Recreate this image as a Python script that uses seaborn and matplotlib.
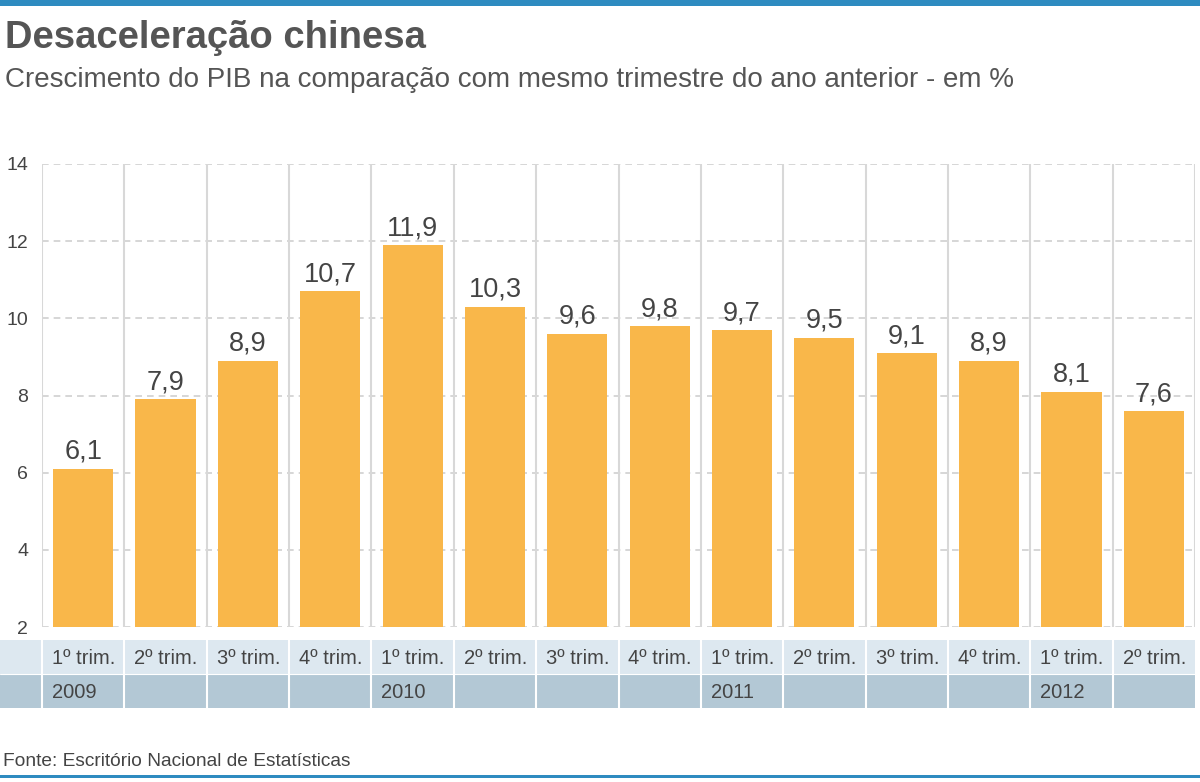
import matplotlib.pyplot as plt
import matplotlib.patches as mpatches
import numpy as np
import pandas as pd
import seaborn as sns

quarters = ["1º trim.", "2º trim.", "3º trim.", "4º trim.",
            "1º trim.", "2º trim.", "3º trim.", "4º trim.",
            "1º trim.", "2º trim.", "3º trim.", "4º trim.",
            "1º trim.", "2º trim."]
years = ["2009", "", "", "", "2010", "", "", "", "2011", "", "", "", "2012", ""]
growth = [6.1, 7.9, 8.9, 10.7, 11.9, 10.3, 9.6, 9.8, 9.7, 9.5, 9.1, 8.9, 8.1, 7.6]
y_ticks = [2, 4, 6, 8, 10, 12, 14]

df = pd.DataFrame({"pos": np.arange(len(growth)), "growth": growth})

sns.set_theme(style="white")
plt.rcParams["font.family"] = ["Liberation Sans", "DejaVu Sans"]

W, H = 1200, 782
fig = plt.figure(figsize=(12, 7.82), dpi=100)

def fx(px):
    return px / W

def fy(px):
    return 1 - px / H

# main axes: x 42..1195 px, y 164..627 px
ax = fig.add_axes([fx(42), fy(627), fx(1195 - 42), (627 - 164) / H])
sns.barplot(data=df, x="pos", y="growth", color="#f9b74a", saturation=1,
            width=0.73, ax=ax, zorder=3)
for p in ax.patches:
    p.set_edgecolor("none")

ax.set_xlim(-0.5, len(growth) - 0.5)
ax.set_ylim(2, 14)
ax.set_yticks(y_ticks)
ax.set_yticklabels([str(t) for t in y_ticks])
ax.set_xticks([])
ax.set_xlabel("")
ax.set_ylabel("")
for s in ax.spines.values():
    s.set_visible(False)
ax.tick_params(axis="y", length=0, pad=10, labelsize=14, labelcolor="#444444")

for t in y_ticks:
    ax.axhline(t, color="#cfcfcf", lw=1.2, ls=(0, (4, 3)), zorder=1)
for k in range(len(growth) + 1):
    ax.axvline(k - 0.5, color="#d8d8d8", lw=1.5, zorder=1)

for i, v in enumerate(growth):
    ax.text(i, v + 0.1, f"{v:.1f}".replace(".", ","), ha="center", va="bottom",
            fontsize=19.5, color="#444444", zorder=4)

# table below the chart
col_w = (1195 - 42) / len(growth)
tab = fig.add_axes([0, fy(708), fx(1195), (708 - 640) / H])
tab.set_xlim(-0.5 - 42 / col_w, len(growth) - 0.5)
tab.set_ylim(0, 2)
tab.axis("off")
x0 = -0.5 - 42 / col_w
tab.add_patch(mpatches.Rectangle((x0, 1), -0.5 - x0, 1, color="#dde8f0", lw=0))
tab.add_patch(mpatches.Rectangle((x0, 0), -0.5 - x0, 1, color="#b3c8d5", lw=0))
for i in range(len(growth)):
    tab.add_patch(mpatches.Rectangle((i - 0.5, 1), 1, 1, color="#dde8f0", lw=0))
    tab.add_patch(mpatches.Rectangle((i - 0.5, 0), 1, 1, color="#b3c8d5", lw=0))
    tab.text(i - 0.5 + 10 / col_w, 1.45, quarters[i], ha="left", va="center",
             fontsize=14.5, color="#444444")
    tab.text(i - 0.5 + 10 / col_w, 0.45, years[i], ha="left", va="center",
             fontsize=14.5, color="#444444")
for k in range(len(growth)):
    tab.axvline(k - 0.5, color="white", lw=1.5)
tab.axhline(1, color="white", lw=0.8)

# header and footer
fig.patches.append(mpatches.Rectangle((0, fy(6)), 1, 6 / H, transform=fig.transFigure,
                                      color="#2e8bc0", lw=0))
fig.patches.append(mpatches.Rectangle((0, fy(778)), 1, 3 / H, transform=fig.transFigure,
                                      color="#2e8bc0", lw=0))
fig.text(fx(5), fy(38), "Desaceleração chinesa", fontsize=27.5, fontweight="bold",
         color="#555555", va="center", ha="left")
fig.text(fx(5), fy(80), "Crescimento do PIB na comparação com mesmo trimestre do ano anterior - em %",
         fontsize=20, color="#555555", va="center", ha="left")
fig.text(fx(3), fy(762), "Fonte: Escritório Nacional de Estatísticas", fontsize=13.8,
         color="#444444", va="center", ha="left")

fig.savefig("out.png", dpi=100)
